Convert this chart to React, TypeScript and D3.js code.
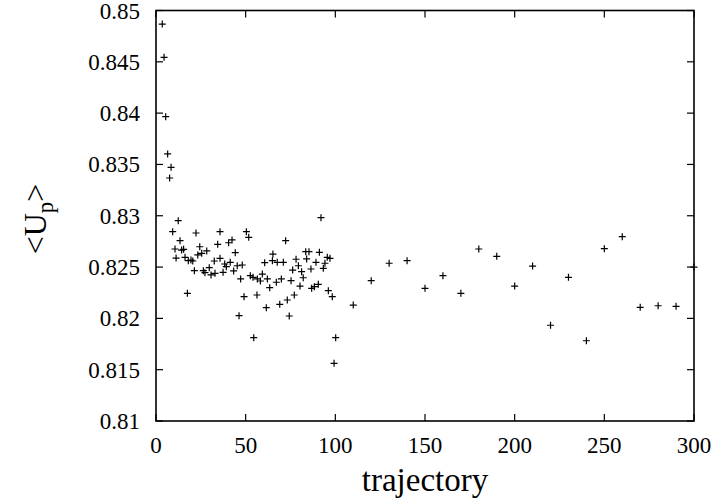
import React from "react";
import * as d3 from "d3";

const trajectory: number[] = [
  3.5, 4.5, 5.4, 6.5, 7.6, 8.4, 9.3, 10.6, 11.2, 12.4, 13.4, 14.3, 15.4, 16.2, 17.5, 18.0,
  19.5, 20.5, 21.4, 22.3, 23.3, 24.4, 25.5, 26.4, 27.3, 28.3, 29.7, 30.7, 32.5, 32.9, 34.4,
  35.7, 35.7, 37.4, 38.3, 39.2, 40.5, 41.4, 42.4, 43.3, 44.2, 45.3, 46.3, 47.2, 48.1, 49.1,
  50.4, 51.7, 52.6, 54.1, 54.5, 56.3, 56.5, 58.2, 59.3, 60.6, 61.5, 62.1, 63.4, 64.9, 65.2,
  67.1, 67.6, 69.0, 69.9, 71.0, 72.3, 73.2, 74.3, 75.3, 76.2, 77.1, 78.1, 79.4, 80.3, 81.2,
  82.1, 83.5, 84.0, 85.3, 86.4, 86.8, 88.3, 89.2, 90.5, 91.1, 92.0, 93.3, 94.2, 95.5, 96.1,
  97.0, 98.3, 99.3, 100.2,
  110, 120, 130, 140, 150, 160, 170, 180, 190, 200, 210, 220, 230, 240, 250, 260, 270, 280, 290, 300,
];

const meanUp: number[] = [
  0.84868, 0.84544, 0.83965, 0.83602, 0.83368, 0.83472, 0.82845, 0.82676, 0.82588, 0.82952,
  0.82757, 0.82666, 0.82673, 0.82595, 0.82244, 0.82562, 0.82569, 0.82559, 0.82465, 0.82832,
  0.82618, 0.82698, 0.82634, 0.82465, 0.82445, 0.82657, 0.82494, 0.82423, 0.82559, 0.82439,
  0.82722, 0.82845, 0.82585, 0.82449, 0.8253, 0.82504, 0.82737, 0.82546, 0.82764, 0.82462,
  0.8264, 0.82513, 0.82026, 0.82384, 0.8252, 0.82211, 0.82845, 0.8279, 0.82416, 0.824,
  0.81812, 0.82228, 0.82384, 0.82364, 0.82432, 0.82543, 0.82104, 0.82384, 0.82299, 0.82562,
  0.82627, 0.82352, 0.82546, 0.82137, 0.82384, 0.82546, 0.82757, 0.82179, 0.82023, 0.82367,
  0.82471, 0.82228, 0.82576, 0.82513, 0.82315, 0.82455, 0.82396, 0.8265, 0.82579, 0.8265,
  0.82481, 0.82293, 0.82309, 0.82546, 0.82332, 0.82644, 0.82981, 0.82488, 0.82537, 0.82595,
  0.8227, 0.82585, 0.82211, 0.81562, 0.81812,
  0.8213, 0.82367, 0.82537, 0.82562, 0.82293, 0.82416, 0.82244, 0.82676, 0.82605, 0.82315,
  0.8251, 0.81933, 0.824, 0.81782, 0.82679, 0.82796, 0.82108, 0.82123, 0.82117, 0.825,
];

const xTicks: number[] = [0, 50, 100, 150, 200, 250, 300];
const yTicks: number[] = [0.81, 0.815, 0.82, 0.825, 0.83, 0.835, 0.84, 0.845, 0.85];
const yTickLabels: string[] = ["0.81", "0.815", "0.82", "0.825", "0.83", "0.835", "0.84", "0.845", "0.85"];

const W = 716;
const H = 503;
const left = 156;
const right = 694;
const top = 10.5;
const bottom = 421;
const tickLen = 7;
const font = "Liberation Serif";

export default function App() {
  const x = d3.scaleLinear().domain([0, 300]).range([left, right]);
  const y = d3.scaleLinear().domain([0.81, 0.85]).range([bottom, top]);
  const pts = trajectory.map((t, i) => [x(t), y(meanUp[i])] as [number, number]);
  const m = 3.5;
  const markerPath = pts
    .map(([px, py]) => `M${px - m},${py}H${px + m}M${px},${py - m}V${py + m}`)
    .join("");

  return (
    <svg
      width={W}
      height={H}
      viewBox={`0 0 ${W} ${H}`}
      style={{ position: "fixed", left: 0, top: 0, background: "#fff" }}
    >
      <rect x={0} y={0} width={W} height={H} fill="#fff" />
      <g stroke="#000" strokeWidth={1.2}>
        {yTicks.map((v, i) => (
          <g key={"yt" + i}>
            <line x1={left} x2={left + tickLen} y1={y(v)} y2={y(v)} />
            <line x1={right} x2={right - tickLen} y1={y(v)} y2={y(v)} />
          </g>
        ))}
        {xTicks.map((v, i) => (
          <g key={"xt" + i}>
            <line x1={x(v)} x2={x(v)} y1={bottom} y2={bottom - tickLen} />
            <line x1={x(v)} x2={x(v)} y1={top} y2={top + tickLen} />
          </g>
        ))}
      </g>
      <rect
        x={left}
        y={top}
        width={right - left}
        height={bottom - top}
        fill="none"
        stroke="#000"
        strokeWidth={1.6}
      />
      {yTicks.map((v, i) => (
        <text
          key={"yl" + i}
          x={140}
          y={y(v) + 8}
          textAnchor="end"
          fontFamily={font}
          fontSize={23}
          fill="#000"
        >
          {yTickLabels[i]}
        </text>
      ))}
      {xTicks.map((v, i) => (
        <text
          key={"xl" + i}
          x={x(v)}
          y={453}
          textAnchor="middle"
          fontFamily={font}
          fontSize={23}
          fill="#000"
        >
          {v}
        </text>
      ))}
      <text x={(left + right) / 2} y={491} textAnchor="middle" fontFamily={font} fontSize={33}>
        trajectory
      </text>
      <text
        transform={`translate(46, 219) rotate(-90)`}
        textAnchor="middle"
        fontFamily={font}
        fontSize={32}
      >
        {"<U"}
        <tspan fontSize={23} dy={7}>p</tspan>
        <tspan dy={-7}>{">"}</tspan>
      </text>
      <path d={markerPath} stroke="#000" strokeWidth={1.2} fill="none" />
    </svg>
  );
}
